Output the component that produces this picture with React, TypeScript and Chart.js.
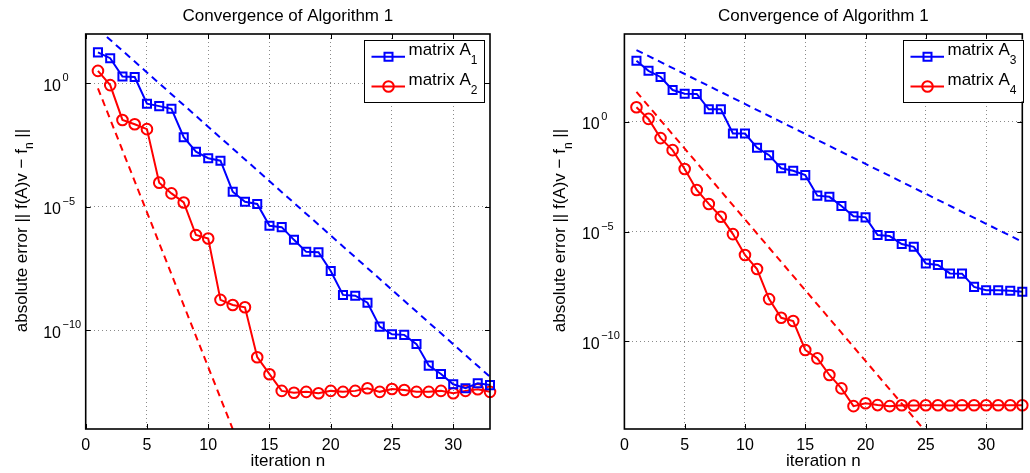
import React, { useEffect, useRef } from "react";
import { Chart, registerables } from "chart.js";

Chart.register(...registerables);

// ---------------- data ----------------
const iterations = [1, 2, 3, 4, 5, 6, 7, 8, 9, 10, 11, 12, 13, 14, 15, 16, 17, 18, 19, 20, 21, 22, 23, 24, 25, 26, 27, 28, 29, 30, 31, 32, 33];

const errA1 = [1.8e1, 1.05e1, 1.9e0, 1.8e0, 1.5e-1, 1.2e-1, 9.3e-2, 6.6e-3, 1.7e-3, 9.3e-4, 7.4e-4, 4.1e-5, 1.6e-5, 1.3e-5, 1.7e-6, 1.5e-6, 4.6e-7, 1.5e-7, 1.45e-7, 2.5e-8, 2.7e-9, 2.5e-9, 1.3e-9, 1.4e-10, 6.9e-11, 6.5e-11, 2.75e-11, 3.7e-12, 1.7e-12, 6.5e-13, 4.5e-13, 7.1e-13, 6.0e-13];
const errA2 = [3.2e0, 8.5e-1, 3.3e-2, 2.2e-2, 1.4e-2, 9.5e-5, 3.5e-5, 1.5e-5, 7.2e-7, 5.2e-7, 1.7e-9, 1.05e-9, 8.5e-10, 8.1e-12, 1.66e-12, 3.5e-13, 2.95e-13, 3.2e-13, 2.8e-13, 3.5e-13, 3.2e-13, 3.5e-13, 4.5e-13, 3.2e-13, 4.2e-13, 3.8e-13, 3.2e-13, 3.2e-13, 3.5e-13, 2.8e-13, 3.5e-13, 4.1e-13, 3.2e-13];
const errA3 = [6.0e2, 2.1e2, 1.1e2, 2.8e1, 1.9e1, 1.85e1, 3.7e0, 3.7e0, 2.95e-1, 2.9e-1, 6.6e-2, 3.0e-2, 7.6e-3, 5.9e-3, 3.7e-3, 4.3e-4, 3.8e-4, 1.45e-4, 5.0e-5, 4.4e-5, 6.9e-6, 6.2e-6, 2.7e-6, 2.0e-6, 3.5e-7, 3.0e-7, 1.23e-7, 1.2e-7, 3.0e-8, 2.1e-8, 2.1e-8, 2.0e-8, 1.8e-8];
const errA4 = [4.6e0, 1.35e0, 1.8e-1, 5.1e-2, 7.1e-3, 7.8e-4, 1.8e-4, 4.7e-5, 7.6e-6, 8.5e-7, 1.95e-7, 8.3e-9, 1.17e-9, 8.3e-10, 4.0e-11, 1.66e-11, 2.9e-12, 7.1e-13, 1.1e-13, 1.48e-13, 1.23e-13, 1.1e-13, 1.2e-13, 1.18e-13, 1.2e-13, 1.2e-13, 1.17e-13, 1.2e-13, 1.2e-13, 1.2e-13, 1.2e-13, 1.2e-13, 1.2e-13];

// dashed bound lines (end points)
const boundA1X = [1, 33];
const boundA1 = [1.6e2, 1.3e-12];
const boundA2X = [1, 12];
const boundA2 = [6.3e-1, 1.0e-14];
const boundA3X = [1, 33];
const boundA3 = [1.86e3, 3.4e-6];
const boundA4X = [1, 24.8];
const boundA4 = [2.3e1, 1.0e-14];

const xTicks = [0, 5, 10, 15, 20, 25, 30];
const yTickValues = [1e-10, 1e-5, 1];
const yTickExponents = ["\u221210", "\u22125", "0"];

const titleText = "Convergence of Algorithm 1";
const xLabelText = "iteration n";

const FONT = "'Liberation Sans', Arial, Helvetica, sans-serif";
const BLUE = "#0000ff";
const RED = "#ff0000";

type Panel = {
  blue: number[];
  red: number[];
  blueBoundX: number[];
  blueBound: number[];
  redBoundX: number[];
  redBound: number[];
  blueName: string;
  redName: string;
  yMin: number;
  yMax: number;
  yAxisWidth: number;
  padRight: number;
  legendLeft: number;
};

const panels: Panel[] = [
  {
    blue: errA1, red: errA2,
    blueBoundX: boundA1X, blueBound: boundA1,
    redBoundX: boundA2X, redBound: boundA2,
    blueName: "1", redName: "2",
    yMin: 1e-14, yMax: 1e2,
    yAxisWidth: 85.7, padRight: 25, legendLeft: 364,
  },
  {
    blue: errA3, red: errA4,
    blueBoundX: boundA3X, blueBound: boundA3,
    redBoundX: boundA4X, redBound: boundA4,
    blueName: "3", redName: "4",
    yMin: 1e-14, yMax: 1e4,
    yAxisWidth: 109.4, padRight: 1, legendLeft: 903 - 515,
  },
];

function drawRich(ctx: CanvasRenderingContext2D, segs: { t: string; size: number; dy: number }[], x: number, y: number, align: "left" | "center") {
  let total = 0;
  const widths = segs.map((s) => {
    ctx.font = `${s.size}px ${FONT}`;
    const w = ctx.measureText(s.t).width;
    total += w;
    return w;
  });
  let cx = align === "center" ? x - total / 2 : x;
  ctx.textAlign = "left";
  ctx.textBaseline = "alphabetic";
  segs.forEach((s, i) => {
    ctx.font = `${s.size}px ${FONT}`;
    ctx.fillText(s.t, cx, y + s.dy);
    cx += widths[i];
  });
}

function drawMarker(ctx: CanvasRenderingContext2D, kind: "rect" | "circle", x: number, y: number, color: string) {
  ctx.save();
  ctx.strokeStyle = color;
  ctx.lineWidth = 2;
  ctx.beginPath();
  if (kind === "rect") {
    const h = 4;
    ctx.rect(x - h, y - h, 2 * h, 2 * h);
  } else {
    ctx.arc(x, y, 5.3, 0, Math.PI * 2);
  }
  ctx.stroke();
  ctx.restore();
}

function makeDecor(p: Panel) {
  return {
    id: "matlabDecor",
    afterDraw(chart: any) {
      const ctx: CanvasRenderingContext2D = chart.ctx;
      const a = chart.chartArea;
      const xs = chart.scales.x;
      const ys = chart.scales.y;
      ctx.save();
      // box
      ctx.strokeStyle = "#000";
      ctx.lineWidth = 1.6;
      ctx.setLineDash([]);
      ctx.strokeRect(a.left, a.top, a.right - a.left, a.bottom - a.top);
      // inner ticks
      ctx.lineWidth = 1;
      const tl = 5;
      xTicks.forEach((v) => {
        const px = Math.round(xs.getPixelForValue(v)) + 0.5;
        ctx.beginPath();
        ctx.moveTo(px, a.bottom);
        ctx.lineTo(px, a.bottom - tl);
        ctx.moveTo(px, a.top);
        ctx.lineTo(px, a.top + tl);
        ctx.stroke();
      });
      yTickValues.forEach((v) => {
        const py = Math.round(ys.getPixelForValue(v)) + 0.5;
        ctx.beginPath();
        ctx.moveTo(a.left, py);
        ctx.lineTo(a.left + tl, py);
        ctx.moveTo(a.right, py);
        ctx.lineTo(a.right - tl, py);
        ctx.stroke();
      });
      ctx.fillStyle = "#000";
      // x tick labels
      ctx.font = `16px ${FONT}`;
      ctx.textAlign = "center";
      ctx.textBaseline = "alphabetic";
      xTicks.forEach((v) => {
        ctx.fillText(String(v), xs.getPixelForValue(v), a.bottom + 21);
      });
      // y tick labels
      yTickValues.forEach((v, i) => {
        const py = ys.getPixelForValue(v);
        const x0 = a.left - 42.5;
        ctx.font = `16px ${FONT}`;
        ctx.textAlign = "left";
        ctx.fillText("10", x0, py + 7.3);
        const w = ctx.measureText("10").width;
        ctx.font = `11px ${FONT}`;
        ctx.fillText(yTickExponents[i], x0 + w + 1.5, py - 2);
      });
      // title
      const cx = (a.left + a.right) / 2;
      ctx.font = `17px ${FONT}`;
      ctx.textAlign = "center";
      ctx.fillText(titleText, cx, 20.5);
      // x label
      ctx.fillText(xLabelText, cx, 466);
      // y label
      ctx.save();
      const cy = (a.top + a.bottom) / 2 - 1;
      ctx.translate(a.left - 59, cy);
      ctx.rotate(-Math.PI / 2);
      drawRich(
        ctx,
        [
          { t: "absolute error || f(A)v \u2212 f", size: 17, dy: 0 },
          { t: "n", size: 12, dy: 6.5 },
          { t: " ||", size: 17, dy: 0 },
        ],
        0,
        0,
        "center"
      );
      ctx.restore();
      // legend
      const lx = p.legendLeft;
      const ly = 39.5;
      const lw = 120;
      const lh = 62;
      ctx.fillStyle = "#fff";
      ctx.fillRect(lx, ly, lw, lh);
      ctx.strokeStyle = "#000";
      ctx.lineWidth = 1;
      ctx.strokeRect(Math.round(lx) + 0.5, Math.round(ly) + 0.5, lw, lh);
      const rows = [
        { color: BLUE, kind: "rect" as const, sub: p.blueName, y: 56.7 },
        { color: RED, kind: "circle" as const, sub: p.redName, y: 86.5 },
      ];
      rows.forEach((r) => {
        ctx.strokeStyle = r.color;
        ctx.lineWidth = 2;
        ctx.beginPath();
        ctx.moveTo(lx + 7.5, r.y);
        ctx.lineTo(lx + 41, r.y);
        ctx.stroke();
        drawMarker(ctx, r.kind, lx + 24.5, r.y, r.color);
        ctx.fillStyle = "#000";
        drawRich(
          ctx,
          [
            { t: "matrix A", size: 17, dy: 0 },
            { t: r.sub, size: 12, dy: 9 },
          ],
          lx + 44.5,
          r.y - 2,
          "left"
        );
      });
      ctx.restore();
    },
  };
}

function pts(xs: number[], ys: number[]) {
  return xs.map((x, i) => ({ x, y: ys[i] }));
}

function PanelChart({ p, left }: { p: Panel; left: number }) {
  const ref = useRef<HTMLCanvasElement | null>(null);
  useEffect(() => {
    if (!ref.current) return;
    const clipMarkers = { left: 0, top: 0, right: 8, bottom: 0 };
    const chart = new Chart(ref.current, {
      type: "line",
      data: {
        datasets: [
          {
            data: pts(iterations, p.blue),
            borderColor: BLUE,
            borderWidth: 2,
            pointStyle: "rect",
            pointRadius: 5.7,
            pointBorderWidth: 2,
            pointBorderColor: BLUE,
            pointBackgroundColor: "rgba(0,0,0,0)",
            tension: 0,
            clip: clipMarkers as any,
          },
          {
            data: pts(iterations, p.red),
            borderColor: RED,
            borderWidth: 2,
            pointStyle: "circle",
            pointRadius: 5.3,
            pointBorderWidth: 2,
            pointBorderColor: RED,
            pointBackgroundColor: "rgba(0,0,0,0)",
            tension: 0,
            clip: clipMarkers as any,
          },
          {
            data: pts(p.blueBoundX, p.blueBound),
            borderColor: BLUE,
            borderWidth: 2,
            borderDash: [7, 5],
            pointRadius: 0,
            tension: 0,
            clip: 0 as any,
          },
          {
            data: pts(p.redBoundX, p.redBound),
            borderColor: RED,
            borderWidth: 2,
            borderDash: [7, 5],
            pointRadius: 0,
            tension: 0,
            clip: 0 as any,
          },
        ],
      },
      options: {
        responsive: false,
        animation: false,
        devicePixelRatio: 1,
        events: [],
        layout: { padding: { left: 0, right: p.padRight, top: 34, bottom: 0 } },
        plugins: {
          legend: { display: false },
          title: { display: false },
          tooltip: { enabled: false },
        },
        scales: {
          x: {
            type: "linear",
            min: 0,
            max: 33,
            afterFit: (s: any) => {
              s.height = 44;
            },
            afterBuildTicks: (s: any) => {
              s.ticks = xTicks.map((v) => ({ value: v }));
            },
            ticks: { display: false },
            grid: { color: "#8a8a8a", lineWidth: 1, drawTicks: false },
            border: { display: false, dash: [1, 3] },
          },
          y: {
            type: "logarithmic",
            min: p.yMin,
            max: p.yMax,
            afterFit: (s: any) => {
              s.width = p.yAxisWidth;
            },
            afterBuildTicks: (s: any) => {
              s.ticks = yTickValues.map((v) => ({ value: v }));
            },
            ticks: { display: false },
            grid: { color: "#8a8a8a", lineWidth: 1, drawTicks: false },
            border: { display: false, dash: [1, 3] },
          },
        },
      } as any,
      plugins: [makeDecor(p)],
    });
    return () => chart.destroy();
  }, [p]);
  return (
    <canvas
      ref={ref}
      width={515}
      height={473}
      style={{ position: "absolute", left, top: 0, width: 515, height: 473, display: "block" }}
    />
  );
}

export default function App() {
  return (
    <div style={{ position: "absolute", left: 0, top: 0, width: 1030, height: 473, background: "#fff", overflow: "hidden" }}>
      <PanelChart p={panels[0]} left={0} />
      <PanelChart p={panels[1]} left={515} />
    </div>
  );
}
